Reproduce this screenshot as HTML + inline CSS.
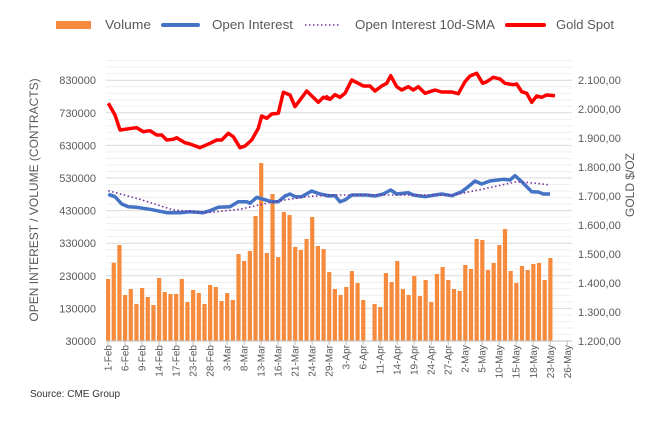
<!DOCTYPE html>
<html><head><meta charset="utf-8"><style>
body{margin:0;background:#fff;}
svg text{font-family:"Liberation Sans",sans-serif;fill:#595959;}
</style></head><body>
<svg id="s" width="671" height="424" xmlns="http://www.w3.org/2000/svg"></svg>
<script>
const s=document.getElementById('s');let h='';
const L=106,R=572,T=60,B=341;
for(let v=30000;v<=930000;v+=20000){const y=B-(v-30000)/100000*32.6;if(y<T-1)break;
 h+=`<line x1="${L}" x2="${R}" y1="${y}" y2="${y}" stroke="${(v-30000)%100000==0?'#d9d9d9':'#efefef'}" stroke-width="1"/>`;}
for(let i=0;i<9;i++){const v=30000+i*100000;const y=B-i*32.6;h+=`<text x="96" y="${y+4}" font-size="11" text-anchor="end">${v}</text>`;}
for(let i=0;i<10;i++){const v=1200+i*100;const y=B-i*29;const t=(v>=1000?Math.floor(v/1000)+'.'+String(v%1000).padStart(3,'0'):v)+',00';h+=`<text x="578" y="${y+4}" font-size="11">${t}</text>`;}
const tops=[657,608,555,705,687,732,684,711,735,654,696,702,702,657,726,690,699,732,675,681,723,699,720,582,603,573,468,309,579,402,591,456,465,561,570,537,471,558,567,636,687,705,681,633,669,720,null,732,741,639,666,603,687,705,648,708,660,726,642,621,660,687,693,615,627,537,540,630,609,555,507,633,669,618,630,612,609,660,594];
const px=i=>108+5.67*i;
tops.forEach((t,i)=>{if(t==null)return;const y=60+t/3;h+=`<rect x="${px(i)-2}" y="${y}" width="4.2" height="${B-y}" fill="#f68b3d"/>`;});
function pts(a,ox){return a.map(p=>`${(ox+p[0]/3).toFixed(1)},${(60+p[1]/3).toFixed(1)}`).join(' ');}
const red1=[[55,130],[75,165],[90,210],[140,203],[160,215],[180,212],[200,225],[215,225],[230,240],[250,238],[260,233],[285,248],[300,252],[330,263],[360,250],[380,240],[395,240],[415,220],[430,230],[450,263],[465,258],[485,240],[505,205],[515,168],[530,175],[545,162],[565,160],[580,97],[600,105],[615,140],[650,93],[685,127],[700,112],[720,118]];
const red2=[[20,110],[30,118],[45,104],[60,112],[75,100],[95,60],[115,70],[130,78],[150,78],[165,93],[185,78],[200,70],[212,47],[230,80],[245,90],[265,80],[280,90],[295,80],[315,100],[345,90],[365,96],[395,96],[415,101],[435,65],[450,48],[470,40],[488,70],[500,65],[520,52],[540,57],[555,70],[580,74],[590,72],[605,95],[620,100],[635,127],[650,108],[665,112],[680,105],[705,107]];
const bl1=[[55,403],[75,410],[95,432],[115,440],[140,442],[180,448],[230,458],[270,458],[300,455],[340,458],[360,452],[385,442],[420,440],[445,425],[470,425],[480,430],[500,412],[520,418],[545,425],[565,425],[585,408],[600,402],[615,410],[635,410],[665,393],[690,402],[720,408]];
const bl2=[[20,407],[45,407],[60,425],[75,420],[95,405],[140,405],[165,408],[190,402],[212,390],[230,402],[265,398],[280,405],[315,410],[345,405],[365,402],[395,407],[425,395],[445,380],[465,363],[485,372],[510,363],[550,358],[570,360],[585,347],[605,365],[635,395],[655,396],[670,402],[690,402]];
const pu1=[[55,392],[150,418],[250,450],[350,458],[450,448],[550,425],[650,410],[720,405]];
const pu2=[[200,405],[400,405],[500,385],[590,365],[650,370],[690,375]];
h+=`<polyline fill="none" stroke="#4472c4" stroke-width="3.5" stroke-linejoin="round" points="${pts(bl1,90)} ${pts(bl2,320)}"/>`;
h+=`<polyline fill="none" stroke="#7030a0" stroke-width="1.6" stroke-dasharray="1.5,2.5" points="${pts(pu1,90)} ${pts(pu2,320)}"/>`;
h+=`<polyline fill="none" stroke="#ff0000" stroke-width="3.5" stroke-linejoin="round" points="${pts(red1,90)} ${pts(red2,320)}"/>`;
h+=`<line x1="${L}" x2="${R}" y1="${B}" y2="${B}" stroke="#bfbfbf"/>`;
const labs=['1-Feb','6-Feb','9-Feb','14-Feb','17-Feb','23-Feb','28-Feb','3-Mar','8-Mar','13-Mar','16-Mar','21-Mar','24-Mar','29-Mar','3-Apr','6-Apr','11-Apr','14-Apr','19-Apr','24-Apr','27-Apr','2-May','5-May','10-May','15-May','18-May','23-May','26-May'];
labs.forEach((l,k)=>{const x=px(k*3);h+=`<line x1="${x}" x2="${x}" y1="${B}" y2="${B+4}" stroke="#bfbfbf"/><text transform="translate(${x+3.5},${B+4}) rotate(-90)" font-size="10" text-anchor="end">${l}</text>`;});
h+=`<text transform="translate(38,200) rotate(-90)" font-size="12" text-anchor="middle">OPEN INTEREST / VOLUME (CONTRACTS)</text>`;
h+=`<text transform="translate(634,185) rotate(-90)" font-size="12" text-anchor="middle">GOLD $/OZ</text>`;
h+=`<rect x="56" y="21" width="35" height="8" fill="#f68b3d"/><text x="105" y="29" font-size="13" textLength="46" lengthAdjust="spacingAndGlyphs">Volume</text>`;
h+=`<line x1="163" y1="25" x2="198" y2="25" stroke="#4472c4" stroke-width="4" stroke-linecap="round"/><text x="212" y="29" font-size="13" textLength="81" lengthAdjust="spacingAndGlyphs">Open Interest</text>`;
h+=`<line x1="305" y1="25" x2="340" y2="25" stroke="#7030a0" stroke-width="1.6" stroke-dasharray="1.5,2.5"/><text x="355" y="29" font-size="13" textLength="140" lengthAdjust="spacingAndGlyphs">Open Interest 10d-SMA</text>`;
h+=`<line x1="507" y1="25" x2="544" y2="25" stroke="#ff0000" stroke-width="4" stroke-linecap="round"/><text x="556" y="29" font-size="13" textLength="58" lengthAdjust="spacingAndGlyphs">Gold Spot</text>`;
h+=`<text x="30" y="397" font-size="10" style="fill:#333">Source: CME Group</text>`;
s.innerHTML=h;
</script>
</body></html>
